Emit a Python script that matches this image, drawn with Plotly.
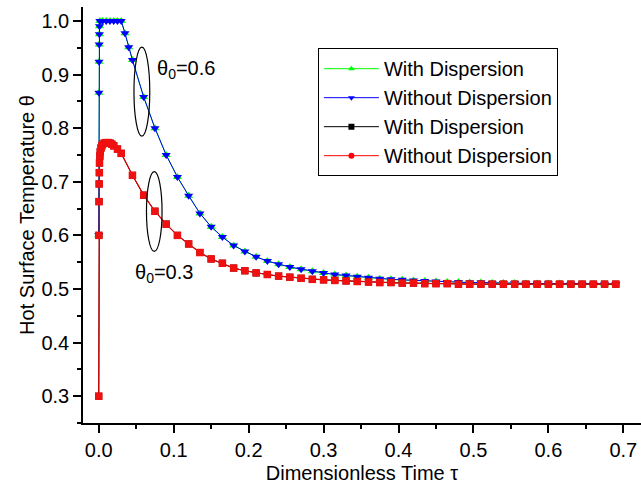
import plotly.graph_objects as go

# ---------------- data ----------------
tau_06 = [0.0, 0.0002, 0.0004, 0.0006, 0.0008, 0.001, 0.0015, 0.005, 0.01, 0.015,
          0.02, 0.025, 0.03, 0.035, 0.04, 0.045, 0.06, 0.075, 0.09, 0.105,
          0.12, 0.135, 0.15, 0.165, 0.18, 0.195, 0.21, 0.225, 0.24, 0.255,
          0.27, 0.285, 0.30, 0.315, 0.33, 0.345, 0.36, 0.375, 0.39, 0.405,
          0.42, 0.435, 0.45, 0.465, 0.48, 0.495, 0.51, 0.525, 0.54, 0.555,
          0.57, 0.585, 0.60, 0.615, 0.63, 0.645, 0.66, 0.675, 0.69]
theta_06_without = [0.600, 0.866, 0.924, 0.956, 0.975, 0.990, 1.000, 1.000, 1.000, 1.000,
                    1.000, 1.000, 1.000, 0.977, 0.951, 0.927, 0.858, 0.800, 0.750, 0.709,
                    0.674, 0.641, 0.616, 0.597, 0.581, 0.570, 0.560, 0.552, 0.546, 0.541,
                    0.537, 0.533, 0.530, 0.527, 0.525, 0.523, 0.521, 0.519, 0.518, 0.517,
                    0.516, 0.515, 0.514, 0.513, 0.513, 0.512, 0.512, 0.511, 0.511, 0.511,
                    0.510, 0.510, 0.510, 0.510, 0.509, 0.509, 0.509, 0.509, 0.509]
theta_06_with = [0.600, 0.866, 0.924, 0.956, 0.975, 0.990, 1.000, 1.000, 1.000, 1.000,
                 1.000, 1.000, 1.000, 0.977, 0.951, 0.927, 0.858, 0.800, 0.750, 0.709,
                 0.674, 0.641, 0.616, 0.597, 0.581, 0.570, 0.560, 0.552, 0.546, 0.541,
                 0.537, 0.533, 0.530, 0.527, 0.525, 0.523, 0.521, 0.519, 0.518, 0.517,
                 0.516, 0.515, 0.514, 0.513, 0.513, 0.512, 0.512, 0.511, 0.511, 0.511,
                 0.510, 0.510, 0.510, 0.510, 0.509, 0.509, 0.509, 0.509, 0.509]

tau_03 = [0.0, 0.0002, 0.0004, 0.0006, 0.0008, 0.001, 0.0015, 0.002, 0.003, 0.004,
          0.005, 0.0075, 0.01, 0.0125, 0.015, 0.0175, 0.02, 0.025, 0.03, 0.045,
          0.06, 0.075, 0.09, 0.105, 0.12, 0.135, 0.15, 0.165, 0.18, 0.195,
          0.21, 0.225, 0.24, 0.255, 0.27, 0.285, 0.30, 0.315, 0.33, 0.345,
          0.36, 0.375, 0.39, 0.405, 0.42, 0.435, 0.45, 0.465, 0.48, 0.495,
          0.51, 0.525, 0.54, 0.555, 0.57, 0.585, 0.60, 0.615, 0.63, 0.645,
          0.66, 0.675, 0.69]
theta_03_without = [0.300, 0.600, 0.663, 0.696, 0.717, 0.735, 0.748, 0.756, 0.763, 0.767,
                    0.770, 0.772, 0.773, 0.773, 0.772, 0.770, 0.767, 0.761, 0.753, 0.712,
                    0.675, 0.645, 0.621, 0.600, 0.584, 0.568, 0.556, 0.548, 0.539, 0.534,
                    0.530, 0.527, 0.524, 0.522, 0.520, 0.518, 0.517, 0.516, 0.515, 0.514,
                    0.513, 0.512, 0.512, 0.511, 0.511, 0.510, 0.510, 0.510, 0.509, 0.509,
                    0.509, 0.509, 0.509, 0.509, 0.509, 0.509, 0.509, 0.509, 0.509, 0.509,
                    0.509, 0.509, 0.509]
theta_03_with = [0.300, 0.600, 0.663, 0.696, 0.717, 0.735, 0.748, 0.756, 0.763, 0.767,
                 0.770, 0.772, 0.773, 0.773, 0.772, 0.770, 0.767, 0.761, 0.753, 0.712,
                 0.675, 0.645, 0.621, 0.600, 0.584, 0.568, 0.556, 0.548, 0.539, 0.534,
                 0.530, 0.527, 0.524, 0.522, 0.520, 0.518, 0.517, 0.516, 0.515, 0.514,
                 0.513, 0.512, 0.512, 0.511, 0.511, 0.510, 0.510, 0.510, 0.509, 0.509,
                 0.509, 0.509, 0.509, 0.509, 0.509, 0.509, 0.509, 0.509, 0.509, 0.509,
                 0.509, 0.509, 0.509]

legend_names = ["With Dispersion", "Without Dispersion", "With Dispersion", "Without Dispersion"]
x_ticks = [0.0, 0.1, 0.2, 0.3, 0.4, 0.5, 0.6, 0.7]
y_ticks = [0.3, 0.4, 0.5, 0.6, 0.7, 0.8, 0.9, 1.0]
label_06 = "θ<sub>0</sub>=0.6"
label_03 = "θ<sub>0</sub>=0.3"

# ---------------- figure ----------------
FONT = "Liberation Sans, Arial, Helvetica, sans-serif"
GREEN, BLUE, BLACK, RED = "#00ff00", "#0000ff", "#000000", "#ff0000"

fig = go.Figure()

# drawn series (overlapping pairs)
fig.add_trace(go.Scatter(x=tau_06, y=theta_06_with, mode="lines+markers",
                         line=dict(color=GREEN, width=1),
                         marker=dict(symbol="triangle-up", size=8, color=GREEN),
                         showlegend=False))
fig.add_trace(go.Scatter(x=tau_06, y=theta_06_without, mode="lines+markers",
                         line=dict(color=BLUE, width=1),
                         marker=dict(symbol="triangle-down", size=8, color=BLUE),
                         showlegend=False))
fig.add_trace(go.Scatter(x=tau_03, y=theta_03_with, mode="lines+markers",
                         line=dict(color=BLACK, width=1),
                         marker=dict(symbol="square", size=7, color=BLACK),
                         showlegend=False))
fig.add_trace(go.Scatter(x=tau_03, y=theta_03_without, mode="lines+markers",
                         line=dict(color="#e00000", width=1.2),
                         marker=dict(symbol="square", size=7.5, color="#f01010"),
                         showlegend=False))

# legend entries
leg_styles = [("triangle-up", GREEN), ("triangle-down", BLUE), ("square", BLACK), ("circle", RED)]
for name, (sym, col) in zip(legend_names, leg_styles):
    fig.add_trace(go.Scatter(x=[None], y=[None], mode="lines+markers", name=name,
                             line=dict(color=col, width=1),
                             marker=dict(symbol=sym, size=6, color=col)))

# ellipses
fig.add_shape(type="circle", xref="x", yref="y", x0=0.0470, x1=0.0681, y0=0.785, y1=0.951,
              line=dict(color="black", width=1.2))
fig.add_shape(type="circle", xref="x", yref="y", x0=0.0637, x1=0.0845, y0=0.570, y1=0.719,
              line=dict(color="black", width=1.2))

fig.add_annotation(x=0.0745, y=0.909, xref="x", yref="y", text=label_06, showarrow=False,
                   xanchor="left", yanchor="middle", font=dict(size=20, color="black", family=FONT))
fig.add_annotation(x=0.046, y=0.529, xref="x", yref="y", text=label_03, showarrow=False,
                   xanchor="left", yanchor="middle", font=dict(size=20, color="black", family=FONT))

axis_common = dict(showgrid=False, zeroline=False, showline=True, linecolor="black", linewidth=1.5,
                   ticks="outside", ticklen=8, tickwidth=1.5, tickcolor="black",
                   tickfont=dict(size=20, color="black", family=FONT), tickformat=".1f",
                   minor=dict(ticks="outside", ticklen=4, tickwidth=1.5, tickcolor="black", dtick=0.05))

fig.update_xaxes(range=[-0.021, 0.7236], tickvals=x_ticks,
                 title=dict(text="Dimensionless Time τ", font=dict(size=20, color="black", family=FONT),
                            standoff=6),
                 **axis_common)
fig.update_yaxes(range=[0.25, 1.026], tickvals=y_ticks,
                 title=dict(text="Hot Surface Temperature θ", font=dict(size=20, color="black", family=FONT),
                            standoff=1),
                 **axis_common)

fig.update_layout(
    width=641, height=489,
    margin=dict(l=83, r=0, t=7, b=66),
    plot_bgcolor="white", paper_bgcolor="white",
    font=dict(family=FONT, color="black"),
    legend=dict(x=0.421, y=0.901, xanchor="left", yanchor="top",
                bgcolor="white", bordercolor="black", borderwidth=1,
                font=dict(size=20, color="black", family=FONT),
                tracegroupgap=0, itemwidth=55),
)

fig.write_html("out.html")
